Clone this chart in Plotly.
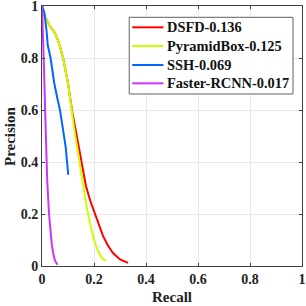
import plotly.graph_objects as go

dsfd_r = [0.0, 0.0115, 0.028, 0.05, 0.065, 0.081, 0.1, 0.115, 0.13, 0.142, 0.155, 0.169, 0.186, 0.204, 0.22, 0.235, 0.253, 0.273, 0.3, 0.331]
dsfd_p = [1.0, 0.958, 0.927, 0.896, 0.858, 0.8, 0.704, 0.6, 0.52, 0.45, 0.375, 0.308, 0.25, 0.2, 0.155, 0.115, 0.08, 0.05, 0.025, 0.012]

pyr_r = [0.0, 0.0115, 0.028, 0.05, 0.065, 0.081, 0.1, 0.113, 0.125, 0.136, 0.147, 0.158, 0.168, 0.177, 0.186, 0.196, 0.207, 0.219, 0.232, 0.246]
pyr_p = [1.0, 0.958, 0.927, 0.896, 0.858, 0.8, 0.704, 0.6, 0.52, 0.45, 0.375, 0.308, 0.25, 0.2, 0.155, 0.115, 0.08, 0.05, 0.03, 0.019]

ssh_r = [0.0, 0.009, 0.018, 0.022, 0.033, 0.047, 0.058, 0.069, 0.08, 0.091, 0.101]
ssh_p = [1.0, 0.975, 0.9, 0.85, 0.8, 0.704, 0.65, 0.6, 0.53, 0.458, 0.351]

frcnn_r = [0.0, 0.004, 0.008, 0.012, 0.015, 0.02, 0.027, 0.033, 0.038, 0.043, 0.05, 0.06]
frcnn_p = [1.0, 0.896, 0.75, 0.6, 0.458, 0.33, 0.2, 0.115, 0.08, 0.05, 0.02, 0.005]

names = ["DSFD-0.136", "PyramidBox-0.125", "SSH-0.069", "Faster-RCNN-0.017"]
colors = ["#ff0000", "#ccff00", "#0066ff", "#cc33ff"]
tick_vals = [0, 0.2, 0.4, 0.6, 0.8, 1]
tick_text = ["0", "0.2", "0.4", "0.6", "0.8", "1"]

fig = go.Figure()
for xs, ys, n, c in zip([dsfd_r, pyr_r, ssh_r, frcnn_r], [dsfd_p, pyr_p, ssh_p, frcnn_p], names, colors):
    fig.add_trace(go.Scatter(x=xs, y=ys, mode="lines", name=n, showlegend=False,
                             line=dict(color=c, width=2)))

tickfont = dict(family="Liberation Serif", size=14, color="#222222", weight="bold")
axis_common = dict(range=[0, 1], tickvals=tick_vals, ticktext=tick_text,
                   showgrid=True, gridcolor="#e8e8e8", gridwidth=1,
                   showline=True, linecolor="#404040", linewidth=1, mirror="ticks",
                   ticks="inside", ticklen=3, tickcolor="#404040", zeroline=False,
                   automargin=False, ticklabeloverflow="allow", tickfont=tickfont)

# Legend drawn as shapes + annotations in paper coordinates
shapes = [dict(type="rect", xref="paper", yref="paper", x0=0.3355, x1=0.9654, y0=0.6615, y1=0.9565,
               line=dict(color="#606060", width=1), fillcolor="white", layer="above")]
annotations = [
    dict(text="<b>Recall</b>", xref="paper", yref="paper", x=0.5, y=-0.121,
         xanchor="center", yanchor="middle", showarrow=False,
         font=dict(family="Liberation Serif", size=15, color="#222222")),
    dict(text="<b>Precision</b>", xref="paper", yref="paper", x=-0.123, y=0.5,
         xanchor="center", yanchor="middle", showarrow=False, textangle=-90,
         font=dict(family="Liberation Serif", size=15, color="#222222")),
]
row_y = [0.918, 0.8462, 0.7731, 0.7026]
for n, c, yy in zip(names, colors, row_y):
    shapes.append(dict(type="line", xref="paper", yref="paper", x0=0.347, x1=0.467, y0=yy, y1=yy,
                       line=dict(color=c, width=2), layer="above"))
    annotations.append(dict(text="<b>" + n + "</b>", xref="paper", yref="paper", x=0.4735, y=yy,
                            xanchor="left", yanchor="middle", showarrow=False,
                            font=dict(family="Liberation Serif", size=14.4, color="#111111")))

fig.update_layout(
    width=306, height=306,
    margin=dict(l=42, r=4, t=6, b=40),
    paper_bgcolor="white", plot_bgcolor="white",
    font=dict(family="Liberation Serif", size=14, color="#222222"),
    xaxis=dict(**axis_common),
    yaxis=dict(**axis_common),
    showlegend=False,
    shapes=shapes,
    annotations=annotations,
)

fig.write_html("out.html", config={"displayModeBar": False},
               post_script="document.body.style.margin='0';document.body.style.overflow='hidden';")
